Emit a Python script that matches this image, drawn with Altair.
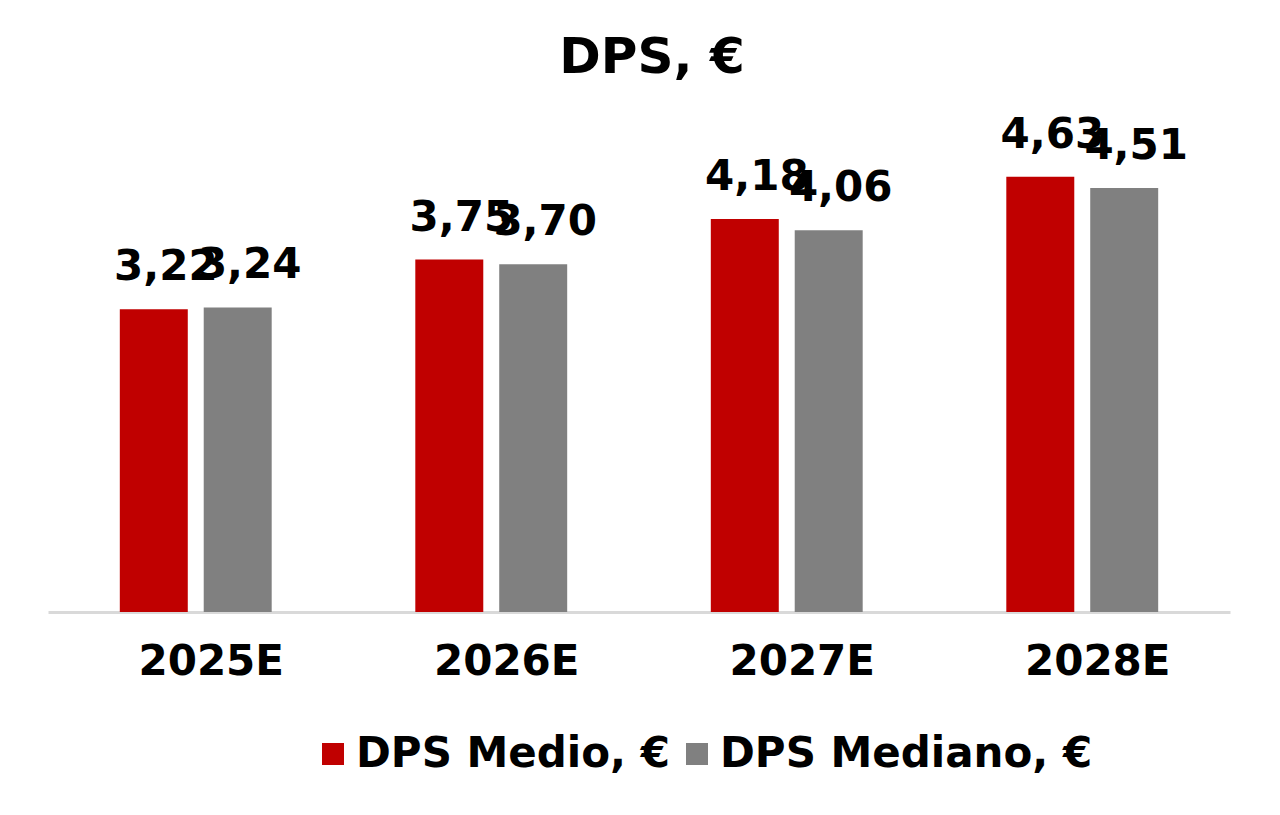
import altair as alt
import pandas as pd

years = ["2025E", "2026E", "2027E", "2028E"]
series = ["DPS Medio, €", "DPS Mediano, €"]
medio = [3.22, 3.75, 4.18, 4.63]
mediano = [3.24, 3.70, 4.06, 4.51]
labels_medio = ["3,22", "3,75", "4,18", "4,63"]
labels_mediano = ["3,24", "3,70", "4,06", "4,51"]

rows = []
for i, y in enumerate(years):
    rows.append({"year": y, "series": series[0], "value": medio[i], "label": labels_medio[i]})
    rows.append({"year": y, "series": series[1], "value": mediano[i], "label": labels_mediano[i]})
df = pd.DataFrame(rows)

FONT = "DejaVu Sans"

x = alt.X("year:N", sort=years, title=None,
          scale=alt.Scale(paddingInner=0.486, paddingOuter=0.243),
          axis=alt.Axis(domainColor="#d9d9d9", domainWidth=3, ticks=False,
                        labelFont=FONT, labelFontSize=42, labelFontWeight="bold",
                        labelColor="#000000", labelPadding=29, tickOffset=15, labelAngle=0))
xoff = alt.XOffset("series:N", sort=series,
                   scale=alt.Scale(paddingInner=0.19, paddingOuter=0))
y = alt.Y("value:Q", scale=alt.Scale(domain=[0, 5]), axis=None)

bars = alt.Chart(df).mark_bar().encode(
    x=x, xOffset=xoff, y=y,
    color=alt.Color("series:N", sort=series,
                    scale=alt.Scale(domain=series, range=["#C00000", "#808080"]),
                    legend=alt.Legend(title=None, orient="none", direction="horizontal",
                                      legendX=264, legendY=591, padding=0,
                                      symbolType="square", symbolSize=484,
                                      symbolStrokeWidth=0, symbolOpacity=1,
                                      labelFont=FONT, labelFontSize=42,
                                      labelFontWeight="bold", labelColor="#000000",
                                      labelLimit=0, columnPadding=6, labelOffset=2)),
)

text = alt.Chart(df).mark_text(font=FONT, fontSize=42, fontWeight="bold",
                               color="#000000", baseline="alphabetic",
                               dx=12, dy=-29).encode(
    x=x, xOffset=xoff, y=y, text="label:N")

chart = (bars + text).properties(
    width=1182, height=470,
    title=alt.TitleParams(text="DPS, €", font=FONT, fontSize=50, fontWeight="bold",
                          color="#000000", anchor="middle", dx=13, offset=31),
    autosize=alt.AutoSizeParams(type="none"),
    padding={"left": 40, "top": 134, "right": 40, "bottom": 180},
).configure_view(stroke=None)

chart.save("out.html", embed_options={"renderer": "svg", "actions": False})
